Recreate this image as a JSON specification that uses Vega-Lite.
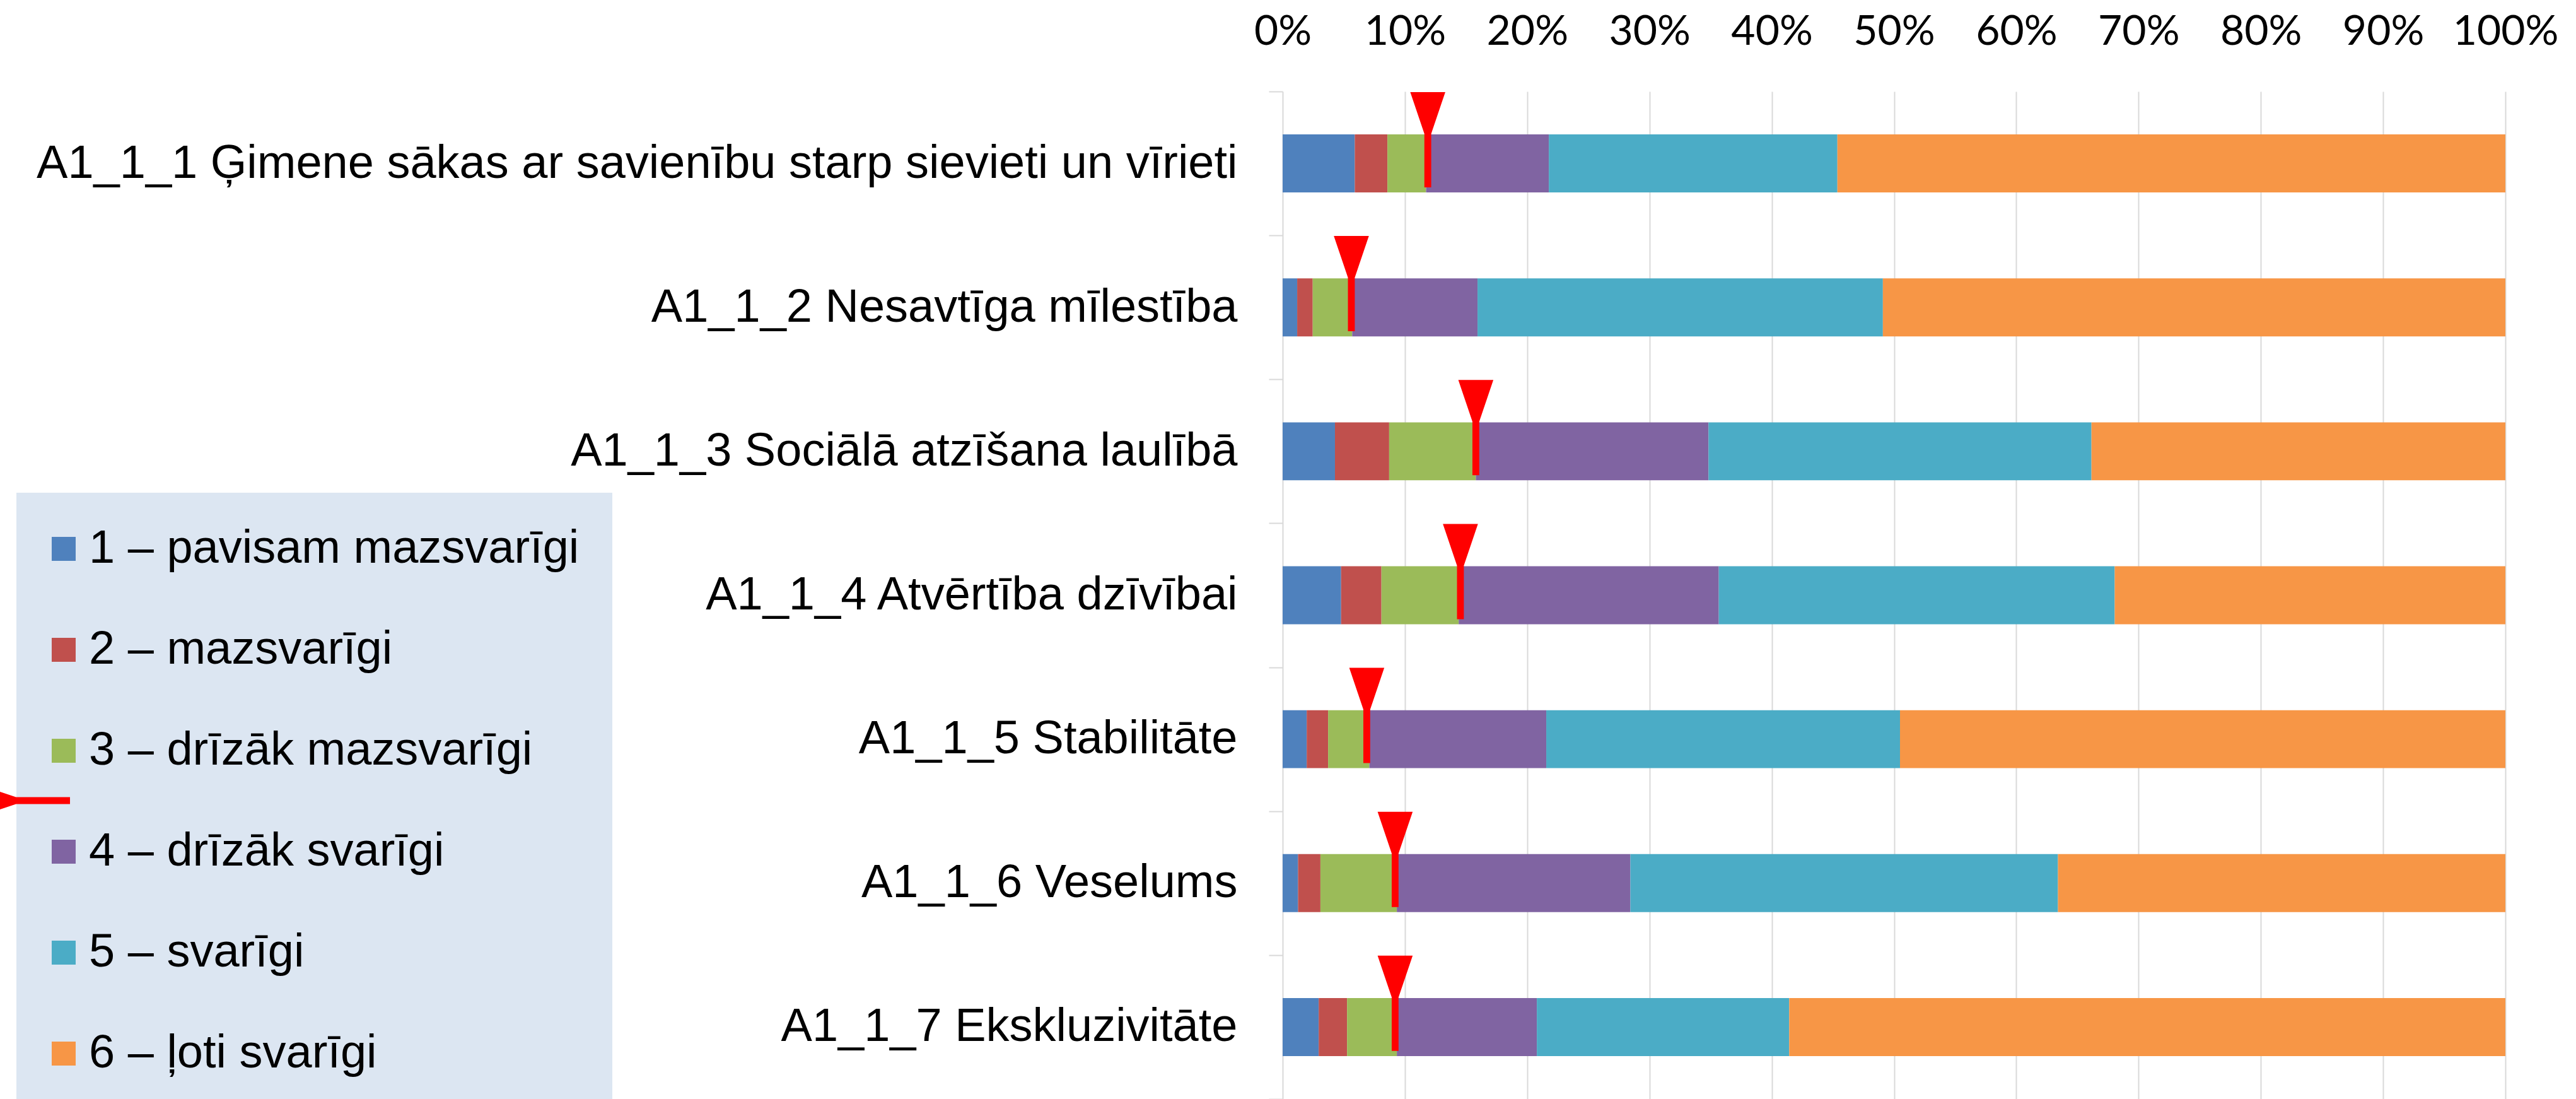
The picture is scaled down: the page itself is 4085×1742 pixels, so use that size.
{
  "$schema": "https://vega.github.io/schema/vega-lite/v6.json",
  "width": 1939,
  "height": 1597,
  "autosize": {"type": "none"},
  "padding": {"left": 2034, "top": 145, "right": 112, "bottom": 0},
  "background": "#FFFFFF",
  "config": {"view": {"stroke": null}, "font": "Liberation Sans"},
  "datasets": {
    "bars": [
      {"item": "A1_1_1 Ģimene sākas ar savienību starp sievieti un vīrieti ", "cat": "1 – pavisam mazsvarīgi", "k": 1, "pct": 5.90},
      {"item": "A1_1_1 Ģimene sākas ar savienību starp sievieti un vīrieti ", "cat": "2 – mazsvarīgi", "k": 2, "pct": 2.67},
      {"item": "A1_1_1 Ģimene sākas ar savienību starp sievieti un vīrieti ", "cat": "3 – drīzāk mazsvarīgi", "k": 3, "pct": 3.16},
      {"item": "A1_1_1 Ģimene sākas ar savienību starp sievieti un vīrieti ", "cat": "4 – drīzāk svarīgi", "k": 4, "pct": 10.04},
      {"item": "A1_1_1 Ģimene sākas ar savienību starp sievieti un vīrieti ", "cat": "5 – svarīgi", "k": 5, "pct": 23.60},
      {"item": "A1_1_1 Ģimene sākas ar savienību starp sievieti un vīrieti ", "cat": "6 – ļoti svarīgi", "k": 6, "pct": 54.63},
      {"item": "A1_1_2 Nesavtīga mīlestība", "cat": "1 – pavisam mazsvarīgi", "k": 1, "pct": 1.19},
      {"item": "A1_1_2 Nesavtīga mīlestība", "cat": "2 – mazsvarīgi", "k": 2, "pct": 1.27},
      {"item": "A1_1_2 Nesavtīga mīlestība", "cat": "3 – drīzāk mazsvarīgi", "k": 3, "pct": 3.23},
      {"item": "A1_1_2 Nesavtīga mīlestība", "cat": "4 – drīzāk svarīgi", "k": 4, "pct": 10.25},
      {"item": "A1_1_2 Nesavtīga mīlestība", "cat": "5 – svarīgi", "k": 5, "pct": 33.15},
      {"item": "A1_1_2 Nesavtīga mīlestība", "cat": "6 – ļoti svarīgi", "k": 6, "pct": 50.91},
      {"item": "A1_1_3 Sociālā atzīšana laulībā", "cat": "1 – pavisam mazsvarīgi", "k": 1, "pct": 4.28},
      {"item": "A1_1_3 Sociālā atzīšana laulībā", "cat": "2 – mazsvarīgi", "k": 2, "pct": 4.43},
      {"item": "A1_1_3 Sociālā atzīšana laulībā", "cat": "3 – drīzāk mazsvarīgi", "k": 3, "pct": 7.09},
      {"item": "A1_1_3 Sociālā atzīšana laulībā", "cat": "4 – drīzāk svarīgi", "k": 4, "pct": 19.03},
      {"item": "A1_1_3 Sociālā atzīšana laulībā", "cat": "5 – svarīgi", "k": 5, "pct": 31.32},
      {"item": "A1_1_3 Sociālā atzīšana laulībā", "cat": "6 – ļoti svarīgi", "k": 6, "pct": 33.85},
      {"item": "A1_1_4 Atvērtība dzīvībai", "cat": "1 – pavisam mazsvarīgi", "k": 1, "pct": 4.78},
      {"item": "A1_1_4 Atvērtība dzīvībai", "cat": "2 – mazsvarīgi", "k": 2, "pct": 3.30},
      {"item": "A1_1_4 Atvērtība dzīvībai", "cat": "3 – drīzāk mazsvarīgi", "k": 3, "pct": 6.32},
      {"item": "A1_1_4 Atvērtība dzīvībai", "cat": "4 – drīzāk svarīgi", "k": 4, "pct": 21.27},
      {"item": "A1_1_4 Atvērtība dzīvībai", "cat": "5 – svarīgi", "k": 5, "pct": 32.38},
      {"item": "A1_1_4 Atvērtība dzīvībai", "cat": "6 – ļoti svarīgi", "k": 6, "pct": 31.95},
      {"item": "A1_1_5 Stabilitāte", "cat": "1 – pavisam mazsvarīgi", "k": 1, "pct": 1.97},
      {"item": "A1_1_5 Stabilitāte", "cat": "2 – mazsvarīgi", "k": 2, "pct": 1.75},
      {"item": "A1_1_5 Stabilitāte", "cat": "3 – drīzāk mazsvarīgi", "k": 3, "pct": 3.37},
      {"item": "A1_1_5 Stabilitāte", "cat": "4 – drīzāk svarīgi", "k": 4, "pct": 14.47},
      {"item": "A1_1_5 Stabilitāte", "cat": "5 – svarīgi", "k": 5, "pct": 28.93},
      {"item": "A1_1_5 Stabilitāte", "cat": "6 – ļoti svarīgi", "k": 6, "pct": 49.51},
      {"item": "A1_1_6 Veselums", "cat": "1 – pavisam mazsvarīgi", "k": 1, "pct": 1.26},
      {"item": "A1_1_6 Veselums", "cat": "2 – mazsvarīgi", "k": 2, "pct": 1.83},
      {"item": "A1_1_6 Veselums", "cat": "3 – drīzāk mazsvarīgi", "k": 3, "pct": 6.25},
      {"item": "A1_1_6 Veselums", "cat": "4 – drīzāk svarīgi", "k": 4, "pct": 19.10},
      {"item": "A1_1_6 Veselums", "cat": "5 – svarīgi", "k": 5, "pct": 34.97},
      {"item": "A1_1_6 Veselums", "cat": "6 – ļoti svarīgi", "k": 6, "pct": 36.59},
      {"item": "A1_1_7 Ekskluzivitāte", "cat": "1 – pavisam mazsvarīgi", "k": 1, "pct": 2.95},
      {"item": "A1_1_7 Ekskluzivitāte", "cat": "2 – mazsvarīgi", "k": 2, "pct": 2.32},
      {"item": "A1_1_7 Ekskluzivitāte", "cat": "3 – drīzāk mazsvarīgi", "k": 3, "pct": 4.07},
      {"item": "A1_1_7 Ekskluzivitāte", "cat": "4 – drīzāk svarīgi", "k": 4, "pct": 11.45},
      {"item": "A1_1_7 Ekskluzivitāte", "cat": "5 – svarīgi", "k": 5, "pct": 20.64},
      {"item": "A1_1_7 Ekskluzivitāte", "cat": "6 – ļoti svarīgi", "k": 6, "pct": 58.57}
    ],
    "markers": [
      {"item": "A1_1_1 Ģimene sākas ar savienību starp sievieti un vīrieti ", "mean": 11.87},
      {"item": "A1_1_2 Nesavtīga mīlestība", "mean": 5.62},
      {"item": "A1_1_3 Sociālā atzīšana laulībā", "mean": 15.8},
      {"item": "A1_1_4 Atvērtība dzīvībai", "mean": 14.54},
      {"item": "A1_1_5 Stabilitāte", "mean": 6.88},
      {"item": "A1_1_6 Veselums", "mean": 9.2},
      {"item": "A1_1_7 Ekskluzivitāte", "mean": 9.2}
    ]
  },
  "layer": [
    {
      "data": {"name": "bars"},
      "mark": {"type": "bar", "height": {"band": 0.403}},
      "encoding": {
        "y": {
          "field": "item", "type": "nominal",
          "sort": ["A1_1_1 Ģimene sākas ar savienību starp sievieti un vīrieti ", "A1_1_2 Nesavtīga mīlestība", "A1_1_3 Sociālā atzīšana laulībā", "A1_1_4 Atvērtība dzīvībai", "A1_1_5 Stabilitāte", "A1_1_6 Veselums", "A1_1_7 Ekskluzivitāte"],
          "scale": {"paddingInner": 0, "paddingOuter": 0},
          "axis": {"title": null, "domain": false, "grid": false, "ticks": true, "tickBand": "extent", "tickColor": "#D9D9D9", "tickWidth": 2, "tickSize": 22, "labelPadding": 50, "labelFont": "Liberation Sans", "labelFontSize": 74, "labelColor": "#000000", "labelLimit": 2100}
        },
        "x": {
          "field": "pct", "type": "quantitative", "stack": "zero",
          "scale": {"domain": [0, 100], "nice": false},
          "axis": {"orient": "top", "title": null, "values": [0, 10, 20, 30, 40, 50, 60, 70, 80, 90, 100], "labelExpr": "datum.value + '%'", "grid": true, "gridColor": "#D9D9D9", "gridWidth": 2, "domain": false, "ticks": false, "tickSize": 0, "labelPadding": 75, "labelBaseline": "alphabetic", "labelFont": "Lato", "labelFontSize": 66, "labelColor": "#000000", "labelFlush": false, "labelOverlap": false}
        },
        "color": {
          "field": "cat", "type": "nominal",
          "scale": {"domain": ["1 – pavisam mazsvarīgi", "2 – mazsvarīgi", "3 – drīzāk mazsvarīgi", "4 – drīzāk svarīgi", "5 – svarīgi", "6 – ļoti svarīgi"], "range": ["#4F81BD", "#C0504D", "#9BBB59", "#8064A2", "#4BACC6", "#F79646"]},
          "legend": {"orient": "none", "legendX": -2008, "legendY": 636, "title": null, "direction": "vertical", "padding": 52, "fillColor": "#DCE6F2", "strokeColor": null, "symbolType": "square", "symbolSize": 1444, "symbolStrokeWidth": 0, "symbolOffset": -14, "labelFont": "Liberation Sans", "labelFontSize": 74, "labelColor": "#000000", "labelOffset": 3, "rowPadding": 86, "labelLimit": 2000, "zindex": 1}
        },
        "order": {"field": "k", "type": "quantitative"}
      }
    },
    {
      "data": {"name": "markers"},
      "mark": {"type": "point", "shape": "M -0.368 -1 L 0.368 -1 L 0.072 -0.126 L 0.072 1 L -0.072 1 L -0.072 -0.126 Z", "size": 22801, "filled": true, "color": "#FF0000", "opacity": 1, "strokeWidth": 0, "yOffset": -37.6},
      "encoding": {
        "y": {"field": "item", "type": "nominal", "sort": ["A1_1_1 Ģimene sākas ar savienību starp sievieti un vīrieti ", "A1_1_2 Nesavtīga mīlestība", "A1_1_3 Sociālā atzīšana laulībā", "A1_1_4 Atvērtība dzīvībai", "A1_1_5 Stabilitāte", "A1_1_6 Veselums", "A1_1_7 Ekskluzivitāte"]},
        "x": {"field": "mean", "type": "quantitative"}
      }
    },
    {
      "data": {"values": [{"s": "Vidējais"}]},
      "mark": {"type": "point", "filled": true, "color": "#FF0000", "opacity": 0},
      "encoding": {
        "shape": {
          "field": "s", "type": "nominal",
          "scale": {"range": ["M -1 -0.368 L -0.126 -0.072 L 1 -0.072 L 1 0.072 L -0.126 0.072 L -1 0.368 Z"]},
          "legend": {"orient": "none", "legendX": -2075, "legendY": 1048, "title": null, "padding": 0, "symbolSize": 23104, "symbolOpacity": 1, "symbolFillColor": "#FF0000", "symbolStrokeWidth": 0, "labelExpr": "''", "zindex": 5}
        }
      }
    }
  ]
}
